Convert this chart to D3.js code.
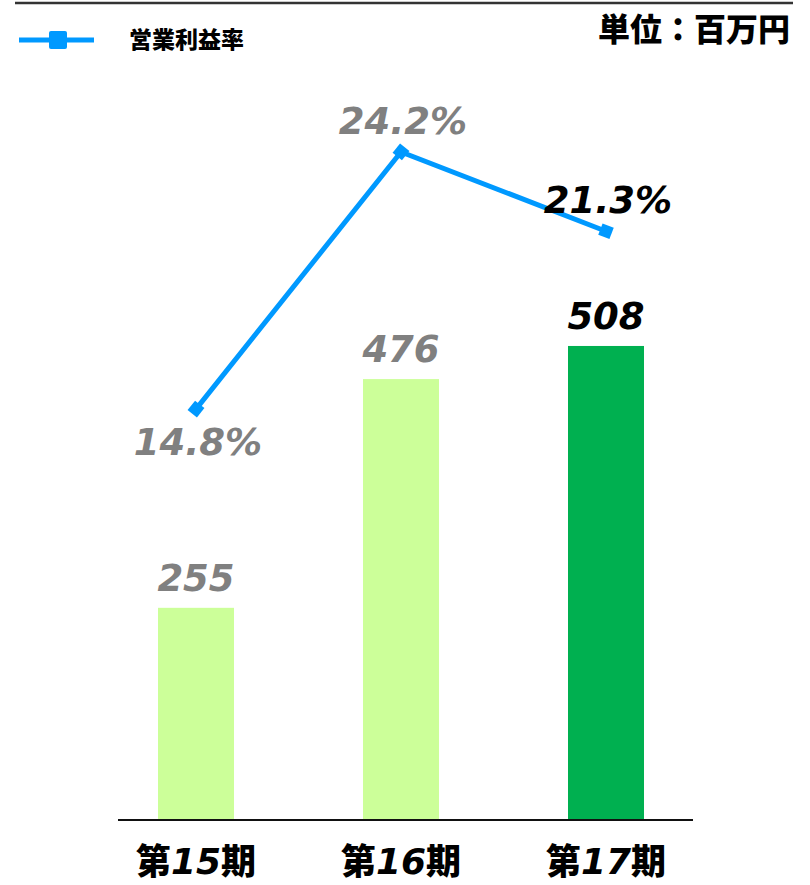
<!DOCTYPE html>
<html>
<head>
<meta charset="utf-8">
<script src="https://cdn.jsdelivr.net/npm/d3@7"></script>
<style>
    body { margin: 0; background: #fff; }
    svg { display: block; }
</style>
</head>
<body>
<div id="chart-area"></div>
<script>

// data
var periods = ["15", "16", "17"];
var profit = [255, 476, 508];           // 百万円
var marginRate = [14.8, 24.2, 21.3];    // 営業利益率 %
var highlight = [false, false, true];   // latest period drawn in dark

var legendLabel = "営業利益率";
var unitLabel = "単位：百万円";

var cjkFont = "'Noto Sans CJK JP', 'Noto Sans', sans-serif";
var numFont = "'DejaVu Sans', Verdana, sans-serif";


/*
 * ComboChart - bars for profit, line for operating margin
 */

ComboChart = function(_parentElement){
    this.parentElement = _parentElement;
    this.initVis();
}

ComboChart.prototype.initVis = function(){
    var vis = this;

    vis.width = 810;
    vis.height = 885;

    vis.svg = d3.select("#" + vis.parentElement).append("svg")
        .attr("width", vis.width)
        .attr("height", vis.height);

    // x: centres of the three periods
    vis.x = d3.scalePoint()
        .domain(periods)
        .range([196, 606]);

    vis.barWidth = 76;
    vis.baseY = 820;

    // the bars in the original are not drawn to zero, so the axis starts at 50
    vis.yBar = d3.scaleLinear()
        .domain([50, 550])
        .range([vis.baseY, vis.baseY - 517.5]);

    vis.yRate = d3.scaleLinear()
        .domain([10, 25])
        .range([540.4, 130]);

    // top rule
    vis.svg.append("line")
        .attr("x1", 15).attr("x2", 793)
        .attr("y1", 3).attr("y2", 3)
        .attr("stroke", "#333")
        .attr("stroke-width", 2.5);

    // legend
    var legend = vis.svg.append("g").attr("class", "legend");
    legend.append("line")
        .attr("x1", 19).attr("x2", 94)
        .attr("y1", 40).attr("y2", 40)
        .attr("stroke", "#0099FF")
        .attr("stroke-width", 5);
    legend.append("rect")
        .attr("x", 49).attr("y", 31)
        .attr("width", 18).attr("height", 18)
        .attr("rx", 2)
        .attr("fill", "#0099FF");
    legend.append("text")
        .attr("x", 129).attr("y", 48)
        .attr("font-family", cjkFont)
        .attr("font-weight", 900)
        .attr("font-size", 23)
        .attr("fill", "#000")
        .text(legendLabel);

    vis.svg.append("text")
        .attr("x", 790).attr("y", 41)
        .attr("text-anchor", "end")
        .attr("font-family", cjkFont)
        .attr("font-weight", 900)
        .attr("font-size", 32)
        .attr("fill", "#000")
        .text(unitLabel);

    vis.wrangleData();
}

ComboChart.prototype.wrangleData = function(){
    var vis = this;

    vis.displayData = periods.map(function(p, i){
        return { period: p, profit: profit[i], rate: marginRate[i], hi: highlight[i] };
    });

    vis.updateVis();
}

ComboChart.prototype.updateVis = function(){
    var vis = this;

    // bars
    vis.svg.selectAll(".bar")
        .data(vis.displayData)
        .enter().append("rect")
        .attr("class", "bar")
        .attr("x", function(d) { return vis.x(d.period) - vis.barWidth / 2; })
        .attr("y", function(d) { return vis.yBar(d.profit); })
        .attr("width", vis.barWidth)
        .attr("height", function(d) { return vis.baseY - vis.yBar(d.profit); })
        .attr("fill", function(d) { return d.hi ? "#00B050" : "#CCFF99"; });

    // baseline
    vis.svg.append("line")
        .attr("x1", 118).attr("x2", 693)
        .attr("y1", vis.baseY).attr("y2", vis.baseY)
        .attr("stroke", "#111")
        .attr("stroke-width", 2);

    // bar values
    vis.svg.selectAll(".bar-label")
        .data(vis.displayData)
        .enter().append("text")
        .attr("class", "bar-label")
        .attr("x", function(d) { return vis.x(d.period); })
        .attr("y", function(d) { return vis.yBar(d.profit) - 17; })
        .attr("text-anchor", "middle")
        .attr("font-family", numFont)
        .attr("font-weight", "bold")
        .attr("font-style", "italic")
        .attr("font-size", 37)
        .attr("fill", function(d) { return d.hi ? "#000" : "#808080"; })
        .text(function(d) { return d.profit; });

    // margin line
    var line = d3.line()
        .x(function(d) { return vis.x(d.period); })
        .y(function(d) { return vis.yRate(d.rate); });

    vis.svg.append("path")
        .datum(vis.displayData)
        .attr("d", line)
        .attr("fill", "none")
        .attr("stroke", "#0099FF")
        .attr("stroke-width", 5);

    // square markers, turned along the line
    var pts = vis.displayData.map(function(d) { return [vis.x(d.period), vis.yRate(d.rate)]; });
    vis.svg.selectAll(".marker")
        .data(vis.displayData)
        .enter().append("rect")
        .attr("class", "marker")
        .attr("x", -6).attr("y", -6)
        .attr("width", 12).attr("height", 12)
        .attr("fill", "#0099FF")
        .attr("transform", function(d, i) {
            var a = i == 0 ? pts[1] : pts[i - 1];
            var b = i == 0 ? pts[0] : pts[i];
            var ang = Math.atan2(b[1] - a[1], b[0] - a[0]) * 180 / Math.PI;
            return "translate(" + pts[i] + ") rotate(" + ang + ")";
        });

    // margin labels: first one sits under its point
    vis.svg.selectAll(".rate-label")
        .data(vis.displayData)
        .enter().append("text")
        .attr("class", "rate-label")
        .attr("x", function(d) { return vis.x(d.period) + 2; })
        .attr("y", function(d, i) { return vis.yRate(d.rate) + (i == 0 ? 46 : -18); })
        .attr("text-anchor", "middle")
        .attr("font-family", numFont)
        .attr("font-weight", "bold")
        .attr("font-style", "italic")
        .attr("font-size", 37)
        .attr("fill", function(d) { return d.hi ? "#000" : "#808080"; })
        .text(function(d) { return d.rate.toFixed(1) + "%"; });

    // category labels: 第NN期
    var cat = vis.svg.selectAll(".cat-label")
        .data(vis.displayData)
        .enter().append("text")
        .attr("class", "cat-label")
        .attr("x", function(d) { return vis.x(d.period); })
        .attr("y", 874)
        .attr("text-anchor", "middle")
        .attr("font-weight", 900)
        .attr("font-size", 35)
        .attr("fill", "#000");
    cat.append("tspan").attr("font-family", cjkFont).text("第");
    cat.append("tspan").attr("font-family", numFont).attr("font-style", "italic").attr("font-size", 36)
        .text(function(d) { return d.period; });
    cat.append("tspan").attr("font-family", cjkFont).text("期");
}

var chart = new ComboChart("chart-area");

</script>
</body>
</html>
